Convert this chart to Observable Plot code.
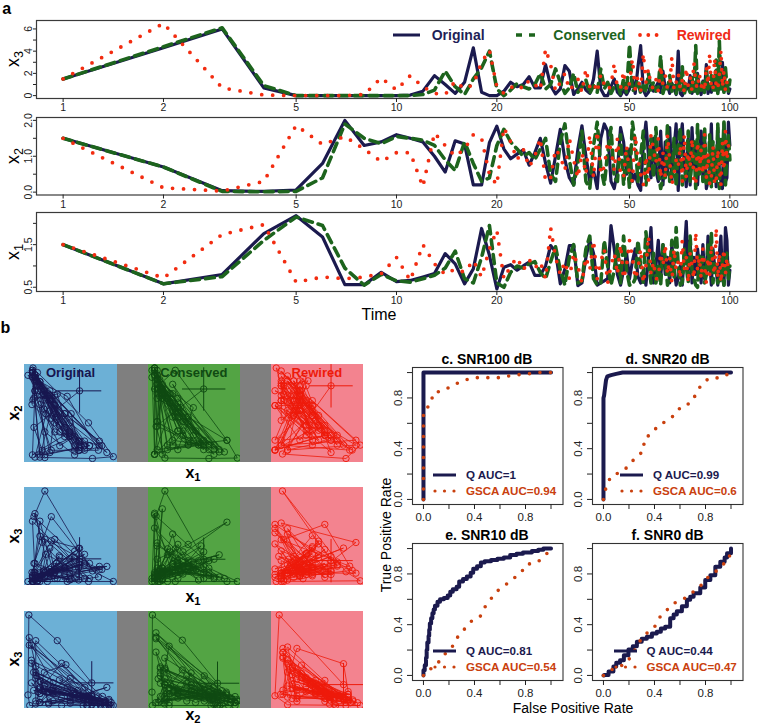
<!DOCTYPE html>
<html><head><meta charset="utf-8">
<script src="https://cdn.jsdelivr.net/npm/d3@7"></script>
<script src="https://cdn.jsdelivr.net/npm/@observablehq/plot@0.6"></script>
<style>
body{margin:0;background:#fff;}
#root{position:relative;width:760px;height:725px;overflow:hidden;background:#fff;}
sub{font-size:70%;vertical-align:-0.3em;line-height:0;}
</style></head><body><div id="root"></div>
<script>
// ---------------- DATA ----------------
const time = d3.range(1, 101);
const timeTicks = [1, 2, 5, 10, 20, 50, 100];
const seriesNames = ["Original", "Conserved", "Rewired"];

// x3
const x3Original = [1.5,4.3,6.0,0.7,0.0,0.0,0.0,0.0,0.0,0.0,
 0.05,0.4,1.8,1.0,0.2,1.2,4.3,0.3,0.0,0.0,
 0.4,1.2,0.8,1.0,1.7,0.7,0.7,2.8,0.9,0.15,
 0.6,2.7,2.2,0.1,0.6,1.2,0.5,0.2,1.5,4.0,
 0.6,0.0,0.0,0.8,1.5,0.3,0.0,0.5,0.1,0.6,
 1.6,0.2,2.6,4.5,0.5,0.0,0.3,1.0,0.4,0.8,
 1.2,0.3,2.2,0.6,0.9,0.2,1.1,0.6,0.1,4.0,
 0.2,0.0,0.5,1.0,0.6,1.8,0.2,0.9,0.4,2.0,
 0.7,0.1,1.3,0.5,2.8,0.2,1.0,0.3,1.6,0.6,
 2.2,0.3,0.9,1.2,3.0,0.4,0.8,1.1,0.2,0.6];
const x3Conserved = [1.5,4.4,6.1,0.9,0.0,0.0,0.0,0.0,0.0,0.0,
 0.0,0.1,0.5,2.2,0.8,0.1,1.5,2.5,4.0,0.6,
 0.0,0.5,1.1,0.8,0.6,1.0,2.0,0.6,1.0,2.4,
 1.2,0.2,0.7,2.0,0.3,0.8,1.4,0.2,0.9,0.3,
 2.4,0.6,1.2,0.2,0.8,1.0,0.1,1.5,0.3,4.6,
 0.4,0.6,1.4,0.2,0.9,0.3,2.0,0.5,1.2,0.4,
 0.8,3.6,0.2,1.0,0.6,1.8,0.4,0.9,0.2,1.3,
 0.5,2.6,0.1,1.0,0.7,0.3,1.6,0.4,4.5,0.2,
 0.9,0.5,1.4,0.2,2.2,0.6,1.0,1.8,0.5,0.5,
 3.2,0.2,4.9,0.6,1.2,0.3,2.5,0.8,0.4,1.4];
const x3Rewired = [1.5,6.5,0.7,0.05,0.0,0.0,0.0,0.1,1.6,0.5,
 1.8,0.8,0.2,0.1,1.3,0.6,1.0,3.0,4.1,0.8,
 0.2,0.7,1.0,0.6,1.4,1.0,0.5,4.2,2.8,0.4,
 1.2,2.0,0.5,0.9,1.5,0.3,2.4,0.8,1.2,0.3,
 1.9,1.0,0.5,0.9,2.9,0.6,0.7,2.2,0.4,1.1,
 3.3,0.6,1.8,0.3,3.8,1.2,2.4,0.8,0.7,1.5,
 0.4,2.7,1.0,1.8,0.6,0.8,3.5,0.5,1.2,2.0,
 0.6,1.4,0.3,2.5,0.9,1.7,0.4,3.0,1.1,0.6,
 2.0,0.8,1.3,0.4,2.7,1.0,3.8,0.5,0.5,3.4,
 0.6,0.6,1.9,4.1,0.7,2.3,0.4,1.2,0.8,1.0];

// x2
const x2Original = [1.5,0.7,0.04,0.02,0.06,0.8,2.0,1.3,1.4,1.6,
 1.5,1.4,1.0,0.56,1.43,1.34,0.2,0.2,1.38,1.84,
 1.2,0.93,1.06,1.18,0.75,1.1,1.5,0.8,0.25,1.0,
 1.75,0.9,0.4,0.2,1.2,1.85,1.0,0.3,0.6,0.1,
 1.5,1.9,1.7,0.3,0.1,0.6,1.8,1.4,0.5,1.2,
 0.3,0.5,0.2,0.05,1.3,1.95,1.0,0.4,1.5,0.6,
 0.3,1.7,0.2,1.4,0.5,1.8,0.3,1.2,1.9,0.05,
 1.4,1.9,0.8,0.15,1.5,0.2,1.8,0.7,1.3,0.2,
 1.1,1.7,0.4,1.6,0.1,0.3,0.6,1.9,0.3,1.0,
 0.15,1.8,0.6,0.3,0.1,1.9,0.3,0.4,1.95,1.3];
const x2Conserved = [1.5,0.7,0.02,0.01,0.02,0.4,1.9,1.5,1.35,1.55,
 1.5,1.45,1.3,0.9,0.6,1.4,0.8,0.3,0.4,1.3,
 1.75,1.4,1.2,1.0,1.1,0.9,1.2,1.5,0.5,0.3,
 1.4,1.9,0.9,0.2,0.8,1.7,0.3,0.1,1.3,1.95,
 0.7,0.2,1.1,1.8,0.4,0.3,1.6,0.2,1.2,0.1,
 1.95,1.4,0.3,1.0,1.7,0.2,0.8,1.5,0.4,1.8,
 0.6,0.1,0.4,0.4,1.9,0.3,0.3,1.5,0.15,1.3,
 1.8,0.2,0.3,0.6,1.7,0.3,0.9,1.4,0.1,1.9,
 0.5,1.3,0.3,1.8,0.2,0.3,1.6,0.15,1.4,0.6,
 0.3,1.9,0.1,1.5,0.8,1.95,0.2,1.1,1.6,0.9];
const x2Rewired = [1.5,0.12,0.03,0.3,1.86,1.33,1.55,1.2,0.85,1.1,
 1.1,0.15,1.65,1.3,1.0,1.2,1.6,1.5,0.5,0.2,
 1.8,1.4,0.9,1.2,0.7,1.0,1.5,0.3,0.4,1.2,
 1.0,0.6,1.5,0.9,0.4,1.1,0.5,1.6,0.4,1.7,
 0.5,0.7,1.4,1.2,0.6,1.5,0.5,0.4,1.3,0.5,
 0.3,1.6,0.9,0.5,0.2,1.0,0.3,1.6,1.2,0.8,
 1.5,0.4,1.1,0.4,1.6,0.9,0.2,0.5,0.9,0.7,
 1.3,0.3,1.6,0.4,1.1,0.7,1.5,0.3,0.2,1.4,
 0.6,1.2,0.5,1.6,0.4,1.1,0.2,0.4,1.3,0.2,
 0.3,1.2,0.7,0.2,1.4,0.6,1.7,0.9,1.3,1.0];

// x1
const x1Original = [1.5,0.58,0.8,1.76,2.18,1.68,0.56,0.56,0.85,0.63,
 0.66,0.74,0.82,1.29,1.05,0.58,0.93,1.88,1.25,0.46,
 0.97,1.03,0.9,1.0,1.09,0.78,0.78,1.0,1.48,1.33,
 0.58,0.93,1.48,1.48,0.54,0.6,1.2,1.6,1.3,0.55,
 0.6,0.65,0.7,1.95,1.4,0.8,0.55,0.9,1.3,0.7,
 1.1,1.4,0.75,0.6,0.9,0.55,1.2,1.9,0.6,1.0,
 1.6,0.7,1.5,0.8,1.2,0.6,1.5,1.0,0.55,0.7,
 1.0,0.55,1.3,2.05,0.9,1.6,0.6,1.2,0.8,1.4,
 1.0,0.6,1.5,0.7,0.8,1.7,1.1,0.55,1.4,1.0,
 0.9,0.55,1.3,1.7,0.7,0.55,1.9,1.6,0.55,0.9];
const x1Conserved = [1.5,0.58,0.75,1.6,2.15,1.95,0.95,0.55,0.8,0.65,
 0.62,0.7,0.78,0.95,1.35,0.7,0.6,1.2,1.95,0.6,
 0.5,0.85,1.0,0.95,1.05,1.1,0.85,0.7,1.1,1.45,
 0.9,0.55,1.2,1.5,0.6,0.65,1.4,1.7,0.7,0.55,
 0.6,1.6,1.0,0.55,0.9,1.5,0.6,1.7,0.9,0.55,
 0.55,0.7,1.6,1.0,0.6,1.8,1.1,0.6,1.3,0.6,
 1.0,0.55,1.5,1.2,0.55,0.8,1.6,0.7,1.9,1.0,
 0.55,0.6,1.4,1.0,0.6,1.7,0.9,0.7,0.55,0.5,
 1.3,0.8,1.2,0.6,0.8,1.5,0.9,1.8,0.6,1.1,
 0.9,0.6,0.7,0.6,1.2,0.55,1.0,1.3,0.7,1.0];
const x1Rewired = [1.5,0.72,1.74,1.97,0.62,0.74,0.7,0.74,0.82,1.2,
 0.66,1.5,1.05,0.8,0.93,0.85,1.13,0.74,1.4,1.84,
 0.7,1.0,1.2,0.9,1.15,0.95,1.1,0.7,1.9,1.2,
 0.8,1.1,0.7,1.3,1.0,0.6,1.2,0.9,1.6,0.7,
 1.1,1.4,0.6,1.0,1.3,0.8,1.5,0.7,1.0,1.6,
 1.2,0.7,0.9,1.4,0.6,1.0,1.7,0.8,1.1,0.7,
 0.7,1.3,1.0,1.5,0.8,1.2,0.6,1.4,0.9,1.1,
 0.7,1.6,0.9,1.2,0.6,1.3,1.0,0.7,1.8,0.9,
 1.2,0.7,1.4,1.0,0.6,1.2,0.8,1.5,1.0,0.8,
 1.9,0.7,1.3,0.6,1.0,1.4,0.8,1.2,0.9,1.0];

// y ticks of panel a
const x3Ticks = [0,1,2,3,4,5,6], x3TickLabels = ["0","","2","","4","","6"];
const x2Ticks = [0,0.5,1,1.5,2], x2TickLabels = ["0.0","","1.0","","2.0"];
const x1Ticks = [0.5,1,1.5,2], x1TickLabels = ["0.5","","1.5",""];

// ROC data (panels c–f)
const rocTitles = ["c. SNR100 dB", "d. SNR20 dB", "e. SNR10 dB", "f. SNR0 dB"];
const qAUC = ["1", "0.99", "0.81", "0.44"];
const gscaAUC = ["0.94", "0.6", "0.54", "0.47"];
const rocTicks = [0,0.2,0.4,0.6,0.8,1.0], rocTickLabels = ["0.0","","0.4","","0.8",""];

const qFprC = [0,0,1], qTprC = [0,1,1];
const gFprC = [0,0,0.057,0.076,0.162,0.228,0.306,0.385,0.497,0.607,0.699,0.796,0.895,1.0];
const gTprC = [0,0.70,0.748,0.84,0.86,0.90,0.934,0.96,0.96,0.96,0.98,0.987,1.0,1.0];

const qFprD = [0,0,0.005,0.01,0.015,0.02,0.03,0.06,0.1,0.15,1];
const qTprD = [0,0.8,0.82,0.86,0.9,0.94,0.97,0.98,0.99,1,1];
const gFprD = [0,0.006,0.026,0.066,0.144,0.204,0.249,0.314,0.32,0.38,0.43,0.5,0.563,0.61,0.686,0.728,0.764,0.824,0.92,1.0];
const gTprD = [0,0.034,0.12,0.19,0.217,0.27,0.33,0.38,0.48,0.52,0.585,0.62,0.67,0.735,0.76,0.835,0.9,0.953,0.96,1.0];

const qFprE = [0,0,0.01,0.02,0.025,0.03,0.04,0.045,0.05,0.06,0.07,0.08,0.09,0.11,0.13,0.16,0.19,0.21,0.23,0.26,0.28,0.31,0.34,0.37,0.39,0.42,0.45,0.48,0.53,0.58,0.63,0.68,0.73,0.78,0.85,0.9,0.94,1.0];
const qTprE = [0,0.04,0.08,0.14,0.2,0.26,0.31,0.36,0.41,0.45,0.49,0.52,0.55,0.58,0.6,0.61,0.63,0.66,0.68,0.7,0.74,0.76,0.78,0.81,0.84,0.86,0.89,0.9,0.91,0.92,0.93,0.95,0.96,0.97,0.98,0.99,1.0,1.0];
const gFprE = [0,0.026,0.07,0.135,0.18,0.235,0.271,0.324,0.377,0.445,0.482,0.524,0.576,0.639,0.7,0.765,0.804,0.89,0.953,1.0];
const gTprE = [0,0.008,0.07,0.118,0.184,0.237,0.308,0.368,0.428,0.465,0.539,0.597,0.663,0.71,0.76,0.808,0.874,0.89,0.943,1.0];

const qFprF = [0,0.005,0.04,0.078,0.1,0.13,0.16,0.196,0.23,0.262,0.3,0.34,0.38,0.418,0.45,0.484,0.523,0.55,0.575,0.615,0.654,0.68,0.707,0.759,0.798,0.838,0.877,0.916,0.95,0.969,1.0];
const qTprF = [0,0.004,0.03,0.07,0.1,0.12,0.16,0.205,0.23,0.266,0.29,0.305,0.33,0.345,0.37,0.384,0.45,0.48,0.505,0.545,0.597,0.62,0.647,0.694,0.752,0.79,0.857,0.897,0.93,0.963,1.0];
const gFprF = [0,0.021,0.092,0.17,0.215,0.257,0.302,0.354,0.406,0.445,0.503,0.55,0.628,0.686,0.754,0.798,0.872,0.921,0.982,1.0];
const gTprF = [0,0.016,0.063,0.087,0.148,0.221,0.297,0.345,0.39,0.463,0.521,0.568,0.602,0.647,0.694,0.758,0.81,0.863,0.91,1.0];

// ---------------- STYLE ----------------
const FONT = "'Liberation Sans', Arial, Helvetica, sans-serif";
const NAVY = "#1b1a4e", GREEN = "#1d641d", RED = "#f22c10", ORANGE = "#c9400e";
const P_COLORS = ["#17164f", "#0f4a12", "#ee1a0a"];
const P_BG = ["#6cb0d6", "#53a444", "#f3838f"];
const root = document.getElementById("root");

function place(el, left, top) {
  el.style.position = "absolute"; el.style.left = left + "px"; el.style.top = top + "px";
  root.appendChild(el); return el;
}
function txt(html, x, y, o = {}) {
  const d = document.createElement("div");
  d.innerHTML = html;
  const tx = o.align === "start" ? "0" : o.align === "end" ? "-100%" : "-50%";
  d.style.cssText = `position:absolute;left:${x}px;top:${y}px;font-family:${FONT};font-size:${o.size||12}px;` +
    `font-weight:${o.weight||"normal"};color:${o.color||"#000"};white-space:nowrap;line-height:1;` +
    `transform:translate(${tx},-50%)${o.rot ? " rotate(-90deg)" : ""};`;
  root.appendChild(d); return d;
}
function raw(html, left, top) {
  const d = document.createElement("div");
  d.innerHTML = html;
  d.style.cssText = `position:absolute;left:${left}px;top:${top}px;line-height:0;`;
  root.appendChild(d); return d;
}

// ---------------- PANEL a ----------------
const xDomain = [0.832, 120.2];
function tsPlot(vals, yDomain, yTicks, yLabels, top, mt, ph, mb) {
  const [orig, cons, rew] = vals.map(v => v.map((y, i) => ({t: time[i], y})));
  const lab = new Map(yTicks.map((d, i) => [d, yLabels[i]]));
  const svg = Plot.plot({
    width: 760, height: mt + ph + mb, marginTop: mt, marginBottom: mb, marginLeft: 36, marginRight: 4,
    style: {fontFamily: FONT, fontSize: "10.5px", color: "#222", background: "transparent", overflow: "visible"},
    x: {type: "log", domain: xDomain},
    y: {domain: yDomain},
    marks: [
      Plot.line(orig, {x: "t", y: "y", stroke: NAVY, strokeWidth: 3.2}),
      Plot.line(cons, {x: "t", y: "y", stroke: GREEN, strokeWidth: 3.6, strokeDasharray: "9,6"}),
      Plot.line(rew, {x: "t", y: "y", stroke: RED, strokeWidth: 3.8, strokeDasharray: "0,11", strokeLinecap: "round"}),
      Plot.frame({stroke: "#3a3a3a", strokeWidth: 1.2}),
      Plot.axisX({ticks: timeTicks, tickFormat: d => String(d), tickSize: 4, tickPadding: 1.3, label: null}),
      Plot.axisY({ticks: yTicks, tickFormat: d => lab.get(d), tickSize: 3, tickPadding: 1.2, tickRotate: -90, label: null})
    ]
  });
  place(svg, 0, top);
}
tsPlot([x3Original, x3Conserved, x3Rewired], [-0.26, 6.76], x3Ticks, x3TickLabels, 0, 20, 78, 17);
tsPlot([x2Original, x2Conserved, x2Rewired], [-0.08, 2.08], x2Ticks, x2TickLabels, 99, 18, 77.5, 17);
tsPlot([x1Original, x1Conserved, x1Rewired], [0.40, 2.255], x1Ticks, x1TickLabels, 195, 17, 79, 17);

txt("a", 6.7, 9, {size: 16, weight: "bold"});
txt("x<sub>3</sub>", 13, 59, {size: 18, rot: true});
txt("x<sub>2</sub>", 13, 155.5, {size: 18, rot: true});
txt("x<sub>1</sub>", 13, 251.5, {size: 18, rot: true});
txt("Time", 379, 314.5, {size: 16});

// legend of panel a
raw(`<svg width="28" height="6"><line x1="0" y1="3" x2="27" y2="3" stroke="${NAVY}" stroke-width="3"/></svg>`, 393, 32);
txt(seriesNames[0], 431.7, 35, {size: 14, weight: "bold", color: "#1f1f57", align: "start"});
raw(`<svg width="22" height="6"><line x1="0" y1="3" x2="6" y2="3" stroke="${GREEN}" stroke-width="3.5"/><line x1="13" y1="3" x2="19" y2="3" stroke="${GREEN}" stroke-width="3.5"/></svg>`, 516, 32);
txt(seriesNames[1], 553.3, 35, {size: 14, weight: "bold", color: GREEN, align: "start"});
raw(`<svg width="22" height="6"><circle cx="2" cy="3" r="1.9" fill="${RED}"/><circle cx="10.3" cy="3" r="1.9" fill="${RED}"/><circle cx="18.6" cy="3" r="1.9" fill="${RED}"/></svg>`, 638, 32);
txt(seriesNames[2], 676.7, 35, {size: 14, weight: "bold", color: "#ef2b17", align: "start"});

// ---------------- PANEL b : phase plots ----------------
txt("b", 5.5, 328, {size: 16, weight: "bold"});
const allSeries = {
  x1: [x1Original, x1Conserved, x1Rewired],
  x2: [x2Original, x2Conserved, x2Rewired],
  x3: [x3Original, x3Conserved, x3Rewired]
};
const phaseRows = [["x1", "x2"], ["x1", "x3"], ["x2", "x3"]];
const rowTops = [364.3, 487.3, 610.5], rowH = 97.5;
const cellLefts = [24.3, 147.7, 270.7], cellW = 92.3;

function phaseCell(xv, yv, color, bg, left, top) {
  const pts = xv.map((x, i) => ({x, y: yv[i]}));
  const svg = Plot.plot({
    width: cellW, height: rowH, margin: 0, inset: 3.5,
    x: {domain: d3.extent(xv), axis: null}, y: {domain: d3.extent(yv), axis: null},
    style: {background: bg, overflow: "hidden"},
    marks: [
      Plot.line(pts, {x: "x", y: "y", stroke: color, strokeWidth: 0.8}),
      Plot.dot(pts, {x: "x", y: "y", r: 3.2, stroke: color, strokeWidth: 0.9, fill: "none"}),
      Plot.dot(pts.slice(0, 1), {x: "x", y: "y", symbol: "plus", r: 14, stroke: color, strokeWidth: 1})
    ]
  });
  place(svg, left, top);
}
phaseRows.forEach(([xa, ya], r) => {
  const g = document.createElement("div");
  g.style.cssText = `position:absolute;left:24.3px;top:${rowTops[r]}px;width:338.4px;height:${rowH}px;background:#7f7f7f;`;
  root.appendChild(g);
  for (let s = 0; s < 3; s++) phaseCell(allSeries[xa][s], allSeries[ya][s], P_COLORS[s], P_BG[s], cellLefts[s], rowTops[r]);
});
seriesNames.forEach((n, s) => txt(n, cellLefts[s] + cellW / 2, 372, {size: 13, weight: "bold", color: P_COLORS[s]}));
txt("x<sub>2</sub>", 13.5, 413, {size: 16, weight: "bold", rot: true});
txt("x<sub>3</sub>", 13.5, 536, {size: 16, weight: "bold", rot: true});
txt("x<sub>3</sub>", 13.5, 659, {size: 16, weight: "bold", rot: true});
txt("x<sub>1</sub>", 193, 473, {size: 16, weight: "bold"});
txt("x<sub>1</sub>", 193, 597, {size: 16, weight: "bold"});
txt("x<sub>2</sub>", 193, 715, {size: 16, weight: "bold"});

// ---------------- ROC panels ----------------
const rocQ = [[qFprC, qTprC], [qFprD, qTprD], [qFprE, qTprE], [qFprF, qTprF]];
const rocG = [[gFprC, gTprC], [gFprD, gTprD], [gFprE, gTprE], [gFprF, gTprF]];
const qCurve = ["linear", "linear", "step-after", "step-after"];
const boxes = [[411.7, 367.3], [592.3, 367.3], [411.7, 543.3], [592.3, 543.3]];
const boxW = 150.5, boxH = 137;
const rocLab = new Map(rocTicks.map((d, i) => [d, rocTickLabels[i]]));

boxes.forEach(([L, T], i) => {
  const ml = 30, mt = 6, mr = 6, mb = 26;
  const q = rocQ[i][0].map((x, j) => ({x, y: rocQ[i][1][j]}));
  const g = rocG[i][0].map((x, j) => ({x, y: rocG[i][1][j]}));
  const svg = Plot.plot({
    width: boxW + ml + mr, height: boxH + mt + mb,
    marginLeft: ml, marginTop: mt, marginRight: mr, marginBottom: mb,
    style: {fontFamily: FONT, fontSize: "11.5px", color: "#222", background: "transparent", overflow: "visible"},
    x: {domain: [-0.086, 1.094]}, y: {domain: [-0.04, 1.04]},
    marks: [
      Plot.line(q, {x: "x", y: "y", stroke: NAVY, strokeWidth: 4, curve: qCurve[i]}),
      Plot.line(g, {x: "x", y: "y", stroke: ORANGE, strokeWidth: 3.6, strokeDasharray: "0,10.5", strokeLinecap: "round"}),
      Plot.frame({stroke: "#333", strokeWidth: 1.1}),
      Plot.axisX({ticks: rocTicks, tickFormat: d => rocLab.get(d), tickSize: 5, tickPadding: 3.5, label: null}),
      Plot.axisY({ticks: rocTicks, tickFormat: d => rocLab.get(d), tickSize: 5, tickPadding: 5.8, tickRotate: -90, label: null})
    ]
  });
  place(svg, L - ml, T - mt);
  txt(rocTitles[i], L + boxW / 2, T - 8.5, {size: 14, weight: "bold"});
  // legend (bottom-right)
  const lg = document.createElement("div");
  lg.style.cssText = `position:absolute;right:${760 - (L + boxW - 6)}px;top:${T + boxH - 36}px;display:grid;grid-template-columns:23px auto;column-gap:10px;row-gap:2px;align-items:center;font-family:${FONT};font-size:11.6px;font-weight:bold;line-height:13.5px;`;
  lg.innerHTML =
    `<svg width="23" height="6"><line x1="0" y1="3" x2="23" y2="3" stroke="${NAVY}" stroke-width="3"/></svg>` +
    `<span style="color:${NAVY}">Q AUC=${qAUC[i]}</span>` +
    `<svg width="23" height="6"><circle cx="2" cy="3" r="1.6" fill="${ORANGE}"/><circle cx="11.5" cy="3" r="1.6" fill="${ORANGE}"/><circle cx="21" cy="3" r="1.6" fill="${ORANGE}"/></svg>` +
    `<span style="color:${ORANGE}">GSCA AUC=${gscaAUC[i]}</span>`;
  root.appendChild(lg);
});
txt("True Positive Rate", 386, 535, {size: 14, rot: true});
txt("False Positive Rate", 573, 708, {size: 14});
</script></body></html>
